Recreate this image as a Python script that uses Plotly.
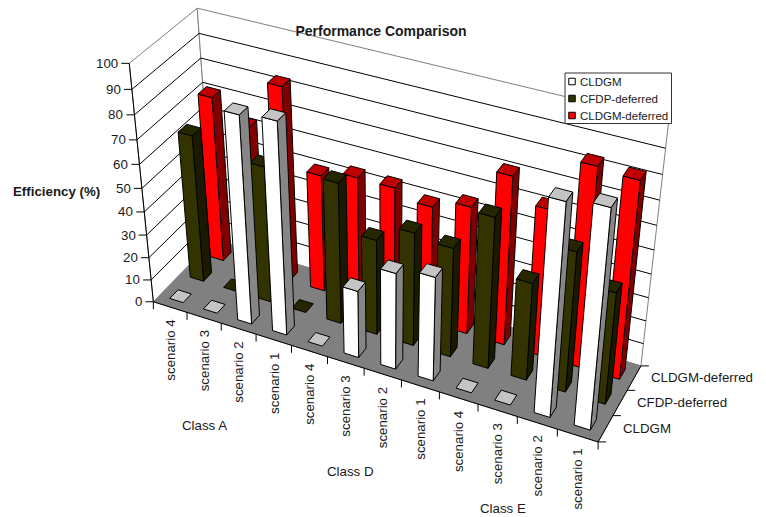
import numpy as np
import plotly.graph_objects as go

# ---- chart data -------------------------------------------------------------
SCENARIOS = ["scenario 4", "scenario 3", "scenario 2", "scenario 1"] * 3
CLASSES = ["Class A", "Class D", "Class E"]
SERIES = ["CLDGM", "CFDP-deferred", "CLDGM-deferred"]
VALUE_TICKS = list(range(0, 101, 10))

CLDGM = [0, 0, 88.0, 89.5, 0, 29.2, 41.5, 44.6, 0, 0, 87.8, 89.9]
CFDP_DEFERRED = [63.8, 0, 59.0, 0, 60.7, 41.3, 48.8, 47.0, 64.1, 41.8, 59.3, 47.5]
CLDGM_DEFERRED = [71.6, 62.9, 83.5, 50.9, 54.2, 54.2, 50.5, 54.8, 71.6, 62.3, 83.7, 82.5]

# ---- styling ----------------------------------------------------------------
FONT = "Liberation Sans"
TEXT_COLOR = "#1a1a1a"
FACE_COLORS = [
    {"front": "#ffffff", "top": "#c4c4c4", "side": "#868686"},
    {"front": "#333300", "top": "#262600", "side": "#1a1a00"},
    {"front": "#ff0000", "top": "#c00000", "side": "#800000"},
]
BAR_SPAN = 0.4  # bar width and depth as a share of their slot (150% gap)

# 3D view: homogeneous camera from (category, series, value) to screen position
CAMERA = np.array([
    [32.1311, 23.9489, -0.362042, 153.351],
    [8.03926, -16.513, -2.44355, 301.749],
    [-0.00824499, 0.0173011, -0.00093655, 1.0],
])


def view(x, y, z):
    """Project a point of the chart box onto the flat plotting plane."""
    u, v, w = CAMERA @ np.array([x, y, z, 1.0])
    return float(u / w), float(v / w)


def path(points):
    xy = [view(*p) for p in points]
    return [p[0] for p in xy], [p[1] for p in xy]


fig = go.Figure()


def polygon(points, fill, line="#000000", width=1):
    xs, ys = path(points + points[:1])
    fig.add_trace(go.Scatter(x=xs, y=ys, mode="lines", fill="toself", fillcolor=fill,
                             line=dict(color=line, width=width), hoverinfo="skip",
                             showlegend=False))


def stroke(xs, ys, color="#000000", width=1):
    fig.add_trace(go.Scatter(x=xs, y=ys, mode="lines", line=dict(color=color, width=width),
                             hoverinfo="skip", showlegend=False))


n_cat, n_ser, top = len(SCENARIOS), len(SERIES), VALUE_TICKS[-1]

# walls with their gridlines
polygon([(0, 0, 0), (0, n_ser, 0), (0, n_ser, top), (0, 0, top)], "#ffffff", "#808080")
polygon([(0, n_ser, 0), (n_cat, n_ser, 0), (n_cat, n_ser, top), (0, n_ser, top)], "#ffffff", "#808080")
for level in VALUE_TICKS[1:-1]:
    xs, ys = path([(0, 0, level), (0, n_ser, level), (n_cat, n_ser, level)])
    stroke(xs, ys)

# floor
polygon([(0, 0, 0), (n_cat, 0, 0), (n_cat, n_ser, 0), (0, n_ser, 0)], "#808080", "#808080")
xs, ys = path([(0, 0, 0), (n_cat, 0, 0), (n_cat, n_ser, 0)])
stroke(xs, ys)

# value axis with outward ticks
xs, ys = path([(0, 0, 0), (0, 0, top)])
stroke(xs, ys)
for level in VALUE_TICKS:
    px, py = view(0, 0, level)
    stroke([px - 8, px], [py, py])
    fig.add_annotation(x=px, y=py, text=str(level), showarrow=False, xanchor="right", yanchor="middle",
                       xshift=-9, font=dict(family=FONT, size=13.3, color=TEXT_COLOR))

# category and series axis ticks
for i in range(n_cat + 1):
    px, py = view(i, 0, 0)
    stroke([px, px], [py, py + 7.5])
for j in range(n_ser + 1):
    px, py = view(n_cat, j, 0)
    stroke([px, px + 8], [py, py])

# bars, painted from the back row forward and left to right
values_by_series = [CLDGM, CFDP_DEFERRED, CLDGM_DEFERRED]
pad = (1 - BAR_SPAN) / 2
for j in reversed(range(n_ser)):
    y0, y1 = j + pad, j + 1 - pad
    for i, value in enumerate(values_by_series[j]):
        x0, x1 = i + pad, i + 1 - pad
        colors = FACE_COLORS[j]
        if value > 0:
            polygon([(x1, y0, 0), (x1, y1, 0), (x1, y1, value), (x1, y0, value)], colors["side"])
            polygon([(x0, y0, 0), (x1, y0, 0), (x1, y0, value), (x0, y0, value)], colors["front"])
        polygon([(x0, y0, value), (x1, y0, value), (x1, y1, value), (x0, y1, value)], colors["top"])

# category, group and series labels
for i, name in enumerate(SCENARIOS):
    px, py = view(i + 0.5, 0, 0)
    fig.add_annotation(x=px, y=py, text=name, textangle=-90, showarrow=False, xanchor="center",
                       yanchor="top", yshift=-11, font=dict(family=FONT, size=13.3, color=TEXT_COLOR))
for name, (cx, cy) in zip(CLASSES, [(204, 425), (350.5, 471), (503, 508)]):
    fig.add_annotation(x=cx, y=cy, text=name, showarrow=False,
                       font=dict(family=FONT, size=13.3, color=TEXT_COLOR))
for j, name in enumerate(SERIES):
    px, py = view(n_cat, j + 0.5, 0)
    fig.add_annotation(x=px, y=py, text=name, showarrow=False, xanchor="left", xshift=15,
                       font=dict(family=FONT, size=13.3, color=TEXT_COLOR))

fig.add_annotation(x=56.5, y=191, text="<b>Efficiency (%)</b>", showarrow=False,
                   font=dict(family=FONT, size=13.3, color=TEXT_COLOR))

# legend box
fig.add_trace(go.Scatter(x=[565, 671.5, 671.5, 565, 565], y=[73, 73, 123.5, 123.5, 73], mode="lines",
                         fill="toself", fillcolor="#ffffff", line=dict(color="#333333", width=1),
                         hoverinfo="skip", showlegend=False))
for j, name in enumerate(SERIES):
    ly = 81.5 + j * 17
    fig.add_trace(go.Scatter(x=[572], y=[ly], mode="markers", hoverinfo="skip", showlegend=False,
                             marker=dict(symbol="square", size=6.5, color=FACE_COLORS[j]["front"],
                                         line=dict(color="#000000", width=1))))
    fig.add_annotation(x=577.5, y=ly, text=name, showarrow=False, xanchor="left",
                       font=dict(family=FONT, size=11.5, color=TEXT_COLOR))

fig.update_layout(
    width=766, height=517, margin=dict(l=0, r=0, t=0, b=0),
    paper_bgcolor="#ffffff", plot_bgcolor="#ffffff", showlegend=False,
    title=dict(text="Performance Comparison", x=381 / 766, xanchor="center", y=1 - 31 / 517, yanchor="middle",
               font=dict(family=FONT, size=14, weight=700, color=TEXT_COLOR)),
    xaxis=dict(visible=False, range=[0, 766], fixedrange=True),
    yaxis=dict(visible=False, range=[517, 0], fixedrange=True),
)
fig.write_html("out.html")
